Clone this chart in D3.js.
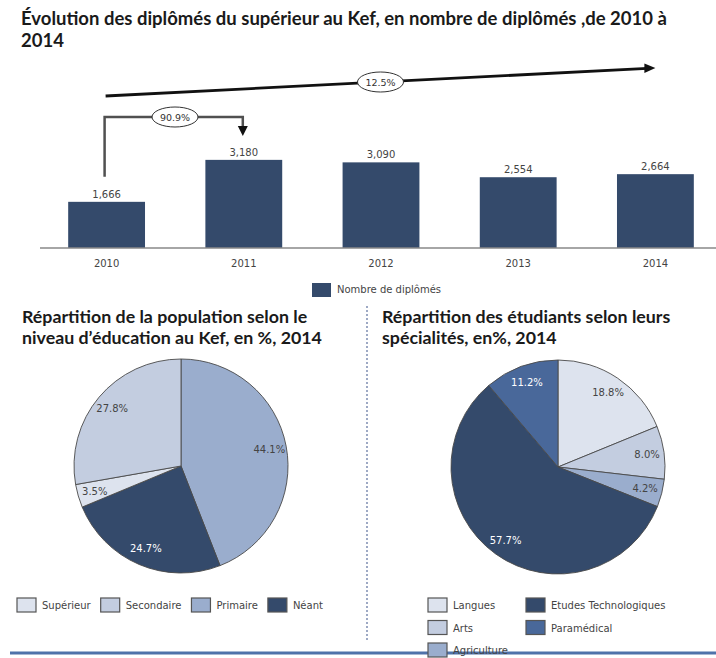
<!DOCTYPE html>
<html>
<head>
<meta charset="utf-8">
<script src="https://cdn.jsdelivr.net/npm/d3@7"></script>
<style>
  body { margin: 0; background: #fff; }
  text { font-family: "DejaVu Sans", sans-serif; }
  .title { font-family: Lato, "Liberation Sans", sans-serif; font-weight: bold; fill: #1a1a1a; }
</style>
</head>
<body>
<div id="chart"></div>
<script>
// bar chart data
var years = ["2010", "2011", "2012", "2013", "2014"];
var diplomes = [1666, 3180, 3090, 2554, 2664];

// population by education level (drawn clockwise from 12 o'clock)
var eduLabels = ["Primaire", "Néant", "Supérieur", "Secondaire"];
var eduValues = [44.1, 24.7, 3.5, 27.8];
var eduLegend = ["Supérieur", "Secondaire", "Primaire", "Néant"];

// students by speciality
var specLabels = ["Langues", "Arts", "Agriculture", "Etudes Technologiques", "Paramédical"];
var specValues = [18.8, 8.0, 4.2, 57.7, 11.2];
var specLegend = ["Langues", "Arts", "Agriculture", "Etudes Technologiques", "Paramédical"];

var colors = {
  "Supérieur": "#dde3ee", "Secondaire": "#c3cde0", "Primaire": "#9aadcd", "Néant": "#344a6b",
  "Langues": "#dde3ee", "Arts": "#c3cde0", "Agriculture": "#9aadcd",
  "Etudes Technologiques": "#344a6b", "Paramédical": "#49689a"
};
var darkSlices = ["Néant", "Etudes Technologiques", "Paramédical"];

var svg = d3.select("#chart").append("svg")
  .attr("width", 716)
  .attr("height", 658);

// titles
var t1 = svg.append("text").attr("class", "title").attr("x", 21).attr("y", 25).style("font-size", "18.5px");
t1.append("tspan").attr("x", 21).text("Évolution des diplômés du supérieur au Kef, en nombre de diplômés ,de 2010 à");
t1.append("tspan").attr("x", 21).attr("y", 47).text("2014");

// ---- bar chart ----
var x = d3.scaleBand().domain(years).range([38, 724]).paddingInner(0.44).paddingOuter(0.22);
var y = d3.scaleLinear().domain([0, 3500]).range([248, 151]);
var cx = function(yr) { return x(yr) + x.bandwidth() / 2; };

svg.append("g").selectAll("rect")
  .data(diplomes)
  .enter().append("rect")
  .attr("x", function(d, i) { return x(years[i]); })
  .attr("y", function(d) { return y(d); })
  .attr("width", x.bandwidth())
  .attr("height", function(d) { return y(0) - y(d); })
  .style("fill", "#344a6b");

svg.append("g").selectAll("text")
  .data(diplomes)
  .enter().append("text")
  .attr("x", function(d, i) { return cx(years[i]); })
  .attr("y", function(d) { return y(d) - 4; })
  .attr("text-anchor", "middle")
  .style("font-size", "10px")
  .style("fill", "#444")
  .text(d3.format(","));

var xAxis = svg.append("g")
  .attr("transform", "translate(0," + y(0) + ")")
  .call(d3.axisBottom(x).tickSize(0).tickPadding(12));
xAxis.select(".domain").attr("stroke", "#888").attr("stroke-width", 1.5).attr("d", "M40,0H716");
xAxis.selectAll("text").style("font-size", "10px").style("fill", "#444").style("font-family", "DejaVu Sans");

// legend of bar chart
svg.append("rect").attr("x", 312).attr("y", 283).attr("width", 19).attr("height", 14).style("fill", "#344a6b");
svg.append("text").attr("x", 337).attr("y", 293).style("font-size", "10px").style("fill", "#444").text("Nombre de diplômés");

// growth annotations
var pct = d3.format(".1%");
var cagr = Math.pow(diplomes[4] / diplomes[0], 1 / 4) - 1;
var g1 = diplomes[1] / diplomes[0] - 1;

var ax0 = cx("2010") - 1, ay0 = 96, ax1 = cx("2014"), ay1 = 68;
svg.append("line")
  .attr("x1", ax0).attr("y1", ay0).attr("x2", ax1 - 8).attr("y2", ay1 + 0.4)
  .attr("stroke", "#111").attr("stroke-width", 2.8);
svg.append("path")
  .attr("d", "M" + ax1 + "," + ay1 + "L" + (ax1 - 11) + "," + (ay1 - 4.5) + "L" + (ax1 - 11) + "," + (ay1 + 5) + "Z")
  .style("fill", "#111");
var mx = (ax0 + ax1) / 2, my = (ay0 + ay1) / 2;
svg.append("ellipse").attr("cx", mx).attr("cy", my).attr("rx", 23).attr("ry", 10)
  .style("fill", "#fff").style("stroke", "#333").style("stroke-width", 1);
svg.append("text").attr("x", mx).attr("y", my + 3.5).attr("text-anchor", "middle")
  .style("font-size", "9.5px").style("fill", "#333").text(pct(cagr));

var bx0 = cx("2010") - 2, bx1 = cx("2011") - 1, by = 117;
svg.append("path")
  .attr("d", "M" + bx0 + "," + (y(diplomes[0]) - 25) + "V" + by + "H" + bx1 + "V" + 127)
  .attr("fill", "none").attr("stroke", "#505050").attr("stroke-width", 2.5);
svg.append("path")
  .attr("d", "M" + (bx1 - 5) + ",126L" + (bx1 + 5) + ",126L" + bx1 + ",136Z")
  .style("fill", "#111");
svg.append("ellipse").attr("cx", 175).attr("cy", by).attr("rx", 23).attr("ry", 10)
  .style("fill", "#fff").style("stroke", "#333").style("stroke-width", 1);
svg.append("text").attr("x", 175).attr("y", by + 3.5).attr("text-anchor", "middle")
  .style("font-size", "9.5px").style("fill", "#333").text(pct(g1));

// ---- pie charts ----
var t2 = svg.append("text").attr("class", "title").attr("x", 22).attr("y", 323).style("font-size", "17.8px");
t2.append("tspan").attr("x", 22).text("Répartition de la population selon le");
t2.append("tspan").attr("x", 22).attr("y", 344).text("niveau d’éducation au Kef, en %, 2014");

var t3 = svg.append("text").attr("class", "title").attr("x", 382).attr("y", 323).style("font-size", "17.8px");
t3.append("tspan").attr("x", 382).text("Répartition des étudiants selon leurs");
t3.append("tspan").attr("x", 382).attr("y", 344).text("spécialités, en%, 2014");

var R = 107;
var pie = d3.pie().sort(null);
var arc = d3.arc().innerRadius(0).outerRadius(R);
var labelArc = d3.arc().innerRadius(R * 0.84).outerRadius(R * 0.84);

function drawPie(labels, values, cxp, cyp) {
  var g = svg.append("g").attr("transform", "translate(" + cxp + "," + cyp + ")");
  var arcs = pie(values);
  g.selectAll("path")
    .data(arcs)
    .enter().append("path")
    .attr("d", arc)
    .style("fill", function(d, i) { return colors[labels[i]]; })
    .style("stroke", "#4a4a4a")
    .style("stroke-width", 0.9);
  g.selectAll("text")
    .data(arcs)
    .enter().append("text")
    .attr("transform", function(d) { return "translate(" + labelArc.centroid(d) + ")"; })
    .attr("dy", "0.35em")
    .attr("text-anchor", "middle")
    .style("font-size", "10px")
    .style("fill", function(d, i) { return darkSlices.indexOf(labels[i]) >= 0 ? "#fff" : "#444"; })
    .text(function(d) { return d3.format(".1f")(d.data) + "%"; });
}

drawPie(eduLabels, eduValues, 181, 466);
drawPie(specLabels, specValues, 558, 467);

// divider and bottom rule
svg.append("line").attr("x1", 367).attr("x2", 367).attr("y1", 306).attr("y2", 640)
  .attr("stroke", "#6a7ca6").attr("stroke-width", 1.3).attr("stroke-dasharray", "2,2");
svg.append("line").attr("x1", 10).attr("x2", 716).attr("y1", 653).attr("y2", 653)
  .attr("stroke", "#4f72aa").attr("stroke-width", 3);

// legends
function legendItem(lx, ly, name) {
  svg.append("rect").attr("x", lx).attr("y", ly).attr("width", 19).attr("height", 14)
    .style("fill", colors[name]).style("stroke", "#555").style("stroke-width", 1.2);
  return svg.append("text").attr("x", lx + 25).attr("y", ly + 11)
    .style("font-size", "10px").style("fill", "#444").text(name);
}

var lx = 17;
eduLegend.forEach(function(name) {
  var t = legendItem(lx, 598, name);
  lx += 25 + t.node().getComputedTextLength() + 10;
});

specLegend.forEach(function(name, i) {
  var col = Math.floor(i / 3), row = i % 3;
  legendItem(428 + col * 98, 598 + row * 22.5, name);
});
</script>
</body>
</html>
